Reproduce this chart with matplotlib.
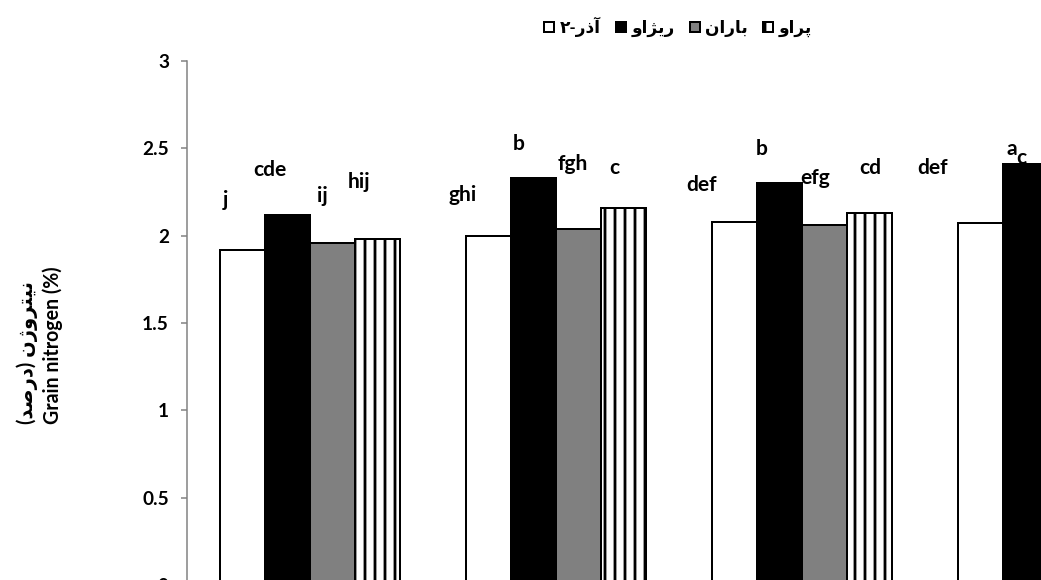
import matplotlib as mpl
mpl.use('Agg')
import matplotlib.pyplot as plt
import numpy as np

# chart is drawn at dpi 60 so that the '|' hatch gives ~10 px stripes
DPI = 60
def px(v):
    # pixel size -> points at this dpi
    return v * 72.0 / DPI

# --- data ---
groups = ['G1', 'G2', 'G3', 'G4']
series = ['آذر-۲', 'ریژاو', 'باران', 'پراو']
azar2  = [1.92, 2.00, 2.08, 2.07]
rizhav = [2.12, 2.33, 2.30, 2.41]
baran  = [1.96, 2.04, 2.06, 2.15]   # last one is cut off in the picture
parav  = [1.98, 2.16, 2.13, 2.20]   # last one is cut off in the picture
letters = [['j', 'ghi', 'def', 'def'],
           ['cde', 'b', 'b', 'a'],
           ['ij', 'fgh', 'efg', 'c'],
           ['hij', 'c', 'cd', '']]
y_ticks = [0, 0.5, 1, 1.5, 2, 2.5, 3]
y_ticklabels = ['0', '0.5', '1', '1.5', '2', '2.5', '3']

# label offsets in pixels (hand placed in the original)
lab_dx = [[-17, -26, -33, -48], [-18, -15, -18, -14], [-10, -6, -9, -49], [-18, -9, 1, 0]]
lab_dy = [[50, 41, 37, 55], [45, 34, 34, 15], [47, 65, 47, 51], [57, 40, 45, 0]]

# simple persian shaping (matplotlib has no complex text layout)
FORMS = {
    'ا': ('\uFE8D', '\uFE8E'),
    'آ': ('\uFE81', '\uFE82'),
    'د': ('\uFEA9', '\uFEAA'),
    'ذ': ('\uFEAB', '\uFEAC'),
    'ر': ('\uFEAD', '\uFEAE'),
    'ژ': ('\uFB8A', '\uFB8B'),
    'و': ('\uFEED', '\uFEEE'),
    'ب': ('\uFE8F', '\uFE90', '\uFE91', '\uFE92'),
    'پ': ('\uFB56', '\uFB57', '\uFB58', '\uFB59'),
    'ت': ('\uFE95', '\uFE96', '\uFE97', '\uFE98'),
    'ص': ('\uFEB9', '\uFEBA', '\uFEBB', '\uFEBC'),
    'ن': ('\uFEE5', '\uFEE6', '\uFEE7', '\uFEE8'),
    'ی': ('\uFBFC', '\uFBFD', '\uFBFE', '\uFBFF'),
}

def shape_fa(s):
    out = []
    for i, ch in enumerate(s):
        f = FORMS.get(ch)
        if f is None:
            out.append(ch)
            continue
        prev = s[i-1] if i > 0 else ''
        nxt = s[i+1] if i + 1 < len(s) else ''
        jp = prev in FORMS and len(FORMS[prev]) == 4
        jn = len(f) == 4 and nxt in FORMS
        if jp and jn:
            out.append(f[3])
        elif jp:
            out.append(f[1])
        elif jn:
            out.append(f[2])
        else:
            out.append(f[0])
    vis = ''.join(reversed(out))
    return vis.translate(str.maketrans('()', ')('))

FAM = ['Lato', 'DejaVu Sans']
plt.rcParams['font.family'] = FAM
plt.rcParams['font.weight'] = 'bold'
plt.rcParams['hatch.linewidth'] = px(2.8)
plt.rcParams['hatch.color'] = '#303030'

fig = plt.figure(figsize=(1041 / DPI, 580 / DPI), dpi=DPI)
# plot area runs off the right and bottom edge like in the original crop
ax = fig.add_axes([187 / 1041, (580 - 585) / 580, (1041 - 187) / 1041, 524 / 580])

x = np.arange(len(groups))
w = 45 / 246.0
data = [azar2, rizhav, baran, parav]
faces = ['white', 'black', '#808080', 'white']
hatches = [None, None, None, '|']
for i in range(4):
    bars = ax.bar(x + (i - 1.5) * w, data[i], w, color=faces[i], edgecolor='black',
                  linewidth=px(2), hatch=hatches[i], label=shape_fa(series[i]))
    for j, b in enumerate(bars):
        if letters[i][j] == '':
            continue
        ax.annotate(letters[i][j], (b.get_x() + b.get_width() / 2, b.get_height()),
                    xytext=(lab_dx[i][j], lab_dy[i][j]), textcoords='offset pixels',
                    ha='center', va='center', fontsize=px(21), fontweight='bold',
                    annotation_clip=False)

ax.set_xlim(-0.5, (1041 - 310) / 246.0)
ax.set_ylim(0, 3)
ax.set_yticks(y_ticks)
ax.set_yticklabels(y_ticklabels, fontsize=px(19), fontweight='bold')
ax.set_xticks([])
for s in ['top', 'right', 'bottom']:
    ax.spines[s].set_visible(False)
ax.spines['left'].set_color('#808080')
ax.spines['left'].set_linewidth(px(1.5))
ax.tick_params(axis='y', length=px(6), width=px(1.5), color='#808080', pad=px(12))

ylab = shape_fa('نیتروژن (درصد)') + '\n' + 'Grain nitrogen (%)'
fig.text(40 / 1041, (580 - 424) / 580, ylab, rotation=90, ha='center', va='bottom',
         multialignment='left', fontsize=px(19.5), fontweight='bold', linespacing=1.25)

fig.legend(loc='center', bbox_to_anchor=(678 / 1041, 1 - 27 / 580), ncol=4, frameon=False,
           prop={'family': FAM, 'weight': 'bold', 'size': px(17)},
           handlelength=0.6, handleheight=0.6, handletextpad=0.3, columnspacing=0.9)

fig.savefig('out.png', dpi=DPI)
